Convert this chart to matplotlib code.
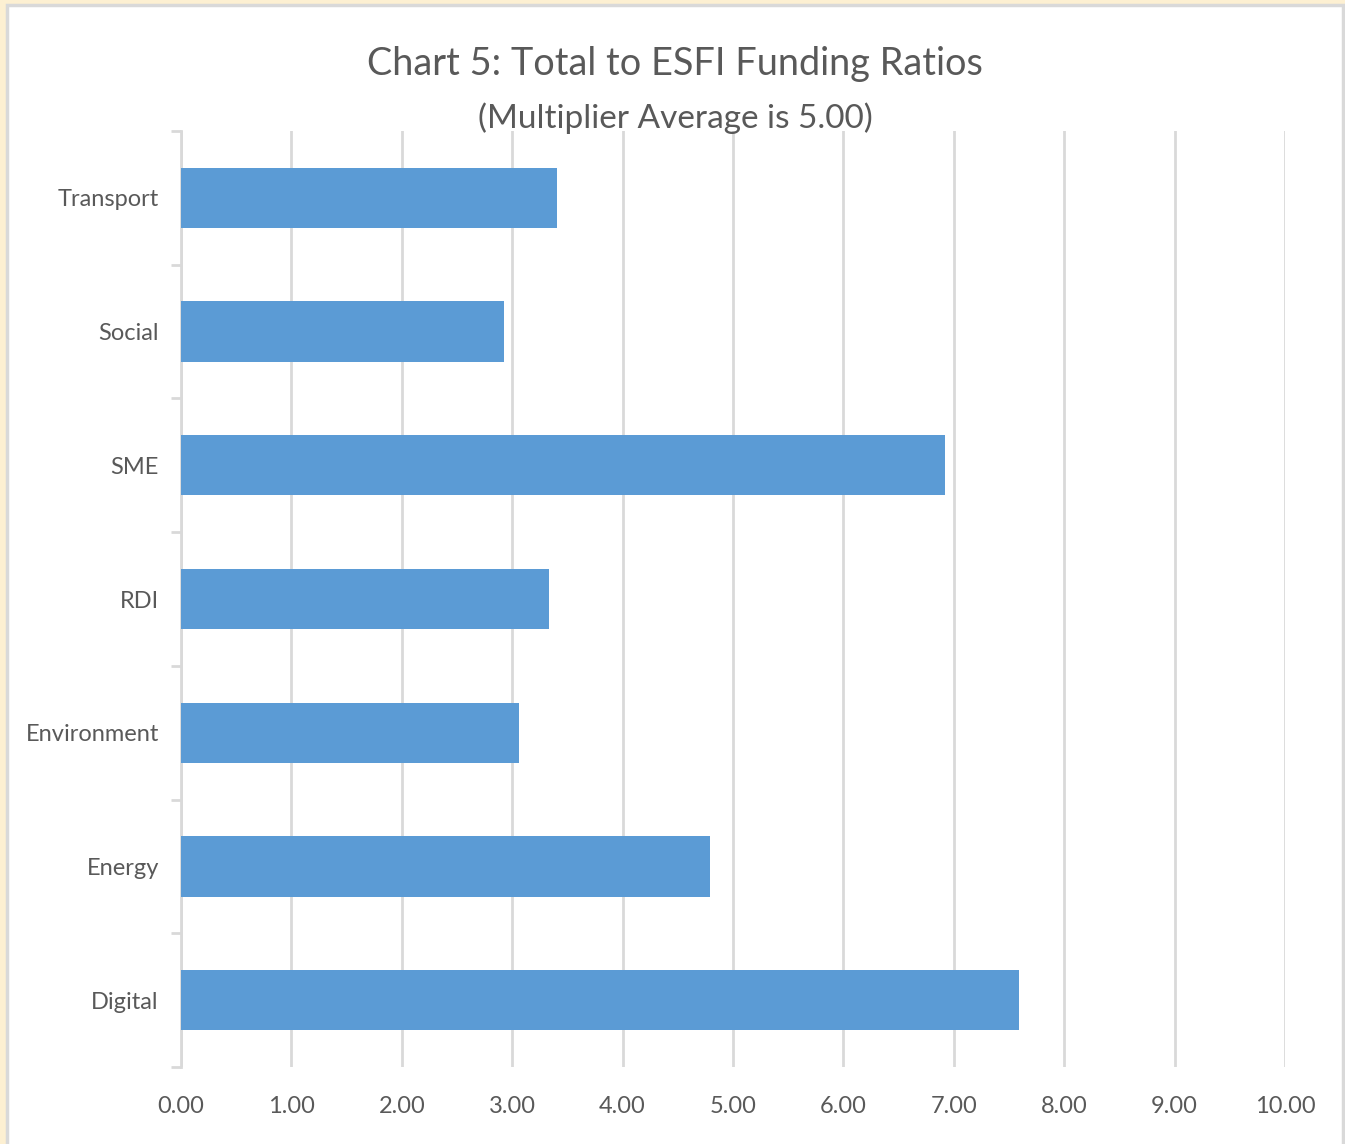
import matplotlib
matplotlib.use("Agg")
import matplotlib.pyplot as plt
from matplotlib.patches import Rectangle

categories = ["Digital", "Energy", "Environment", "RDI", "SME", "Social", "Transport"]
values = [7.59, 4.79, 3.06, 3.33, 6.92, 2.93, 3.41]
xticks = [0, 1, 2, 3, 4, 5, 6, 7, 8, 9, 10]
xtick_labels = [f"{v:.2f}" for v in xticks]

plt.rcParams['font.family'] = ['Lato', 'DejaVu Sans']
W, H = 1345, 1144
fig = plt.figure(figsize=(W / 100, H / 100), dpi=100)
fig.patch.set_facecolor('#fdf0d2')
# chart area frame
fig.patches.append(Rectangle((7 / W, -0.05), (1343 - 7) / W, 1.05 - 5 / H,
                             transform=fig.transFigure, facecolor='white',
                             edgecolor='#d9d9d9', linewidth=2.5, zorder=-5))

left, right = 181 / W, 1285 / W
top, bottom = 1 - 131 / H, 1 - 1067 / H
ax = fig.add_axes([left, bottom, right - left, top - bottom])
ax.set_zorder(2)
ax.set_facecolor('none')

ypos = list(range(len(categories)))
ax.barh(ypos, values, height=0.45, color='#5b9bd5', zorder=3)
ax.set_xlim(0, 10)
ax.set_ylim(-0.5, len(categories) - 0.5)
ax.set_xticks(xticks)
ax.set_xticklabels(xtick_labels)
ax.set_yticks(ypos)
ax.set_yticklabels(categories)
ax.set_yticks([i - 0.5 for i in range(len(categories) + 1)], minor=True)

ax.grid(axis='x', color='#d9d9d9', linewidth=2, zorder=0)
ax.set_axisbelow(True)
for s in ['top', 'right', 'bottom']:
    ax.spines[s].set_visible(False)
ax.spines['left'].set_color('#d9d9d9')
ax.spines['left'].set_linewidth(2)

ax.tick_params(axis='x', length=0, pad=21, labelsize=17, labelcolor='#595959')
ax.tick_params(axis='y', which='major', length=0, pad=16, labelsize=17, labelcolor='#595959')
ax.tick_params(axis='y', which='minor', length=7, width=2, color='#d9d9d9')

fig.text((368 + 982) / 2 / W, 1 - 64 / H, "Chart 5: Total to ESFI Funding Ratios",
         ha='center', va='center', fontsize=27.3, color='#595959', zorder=3)
fig.text((478 + 873) / 2 / W, 1 - 118 / H, "(Multiplier Average is 5.00)",
         ha='center', va='center', fontsize=24, color='#595959', zorder=3)

fig.savefig("out.png", dpi=100)
